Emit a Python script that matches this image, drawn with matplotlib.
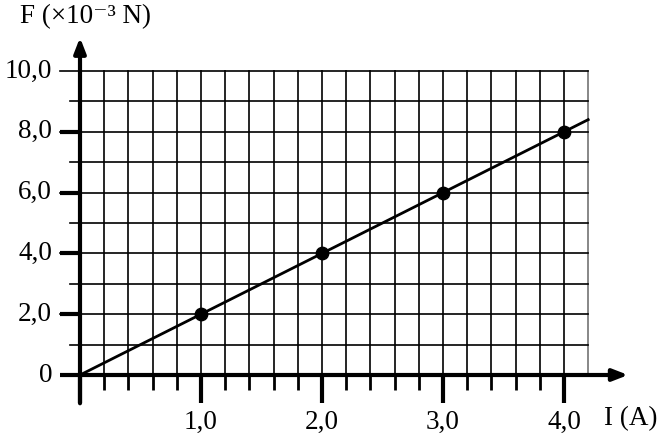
import numpy as np
import matplotlib.pyplot as plt

# dados
corrente = [1.0, 2.0, 3.0, 4.0]          # I (A)
forca = [2.0, 4.0, 6.0, 8.0]             # F (x10^-3 N)
reta_i = [0.0, 4.2]
reta_f = [0.0, 8.4]

ticks_x = [1.0, 2.0, 3.0, 4.0]
rotulos_x = ['1,0', '2,0', '3,0', '4,0']
ticks_y = [0, 2, 4, 6, 8, 10]
rotulos_y = ['0', '2,0', '4,0', '6,0', '8,0', '10,0']

plt.rcParams['font.family'] = ['Liberation Serif', 'DejaVu Serif']

fig = plt.figure(figsize=(6.65, 4.37), dpi=100)
ax = fig.add_axes([0, 0, 1, 1])
ax.set_xlim(-80 / 121, (665 - 80) / 121)
ax.set_ylim(-(437 - 375) / 30.4, 375 / 30.4)
ax.axis('off')

# grade
x_max, y_max = 4.2, 10
for xv in np.arange(0.2, x_max + 0.01, 0.2):
    cor = '0.45' if abs(xv - x_max) < 1e-6 else 'black'
    ax.plot([xv, xv], [0, y_max], color=cor, lw=1.2, zorder=1)
for yv in range(1, y_max + 1):
    inicio = -0.165 if yv % 2 == 0 else -0.083
    ax.plot([inicio, x_max], [yv, yv], color='black', lw=1.2, zorder=1)

# marcas grossas no eixo y
for yv in ticks_y[:-1]:
    ax.plot([-0.165, 0], [yv, yv], color='black', lw=3, zorder=2,
            solid_capstyle='butt')

# marcas no eixo x
for xv in np.arange(0.2, 4.0, 0.2):
    if abs(xv - round(xv)) < 1e-6:
        continue
    ax.plot([xv, xv], [0, -0.5], color='black', lw=2, zorder=2,
            solid_capstyle='butt')
for xv in [0.0] + ticks_x:
    ax.plot([xv, xv], [0, -0.93], color='black', lw=3, zorder=2,
            solid_capstyle='butt')

# eixos com setas
ax.annotate('', xy=(0, 11.1), xytext=(0, -0.93),
            arrowprops=dict(arrowstyle='-|>,head_length=0.9,head_width=0.35',
                            color='black', lw=3, shrinkA=0, shrinkB=0), zorder=3)
ax.annotate('', xy=(4.53, 0), xytext=(0, 0),
            arrowprops=dict(arrowstyle='-|>,head_length=0.9,head_width=0.35',
                            color='black', lw=3, shrinkA=0, shrinkB=0), zorder=3)

# reta e pontos
ax.plot(reta_i, reta_f, color='black', lw=2, zorder=4)
ax.scatter(corrente, forca, s=80, color='black', zorder=5)

# rótulos
for xv, txt in zip(ticks_x, rotulos_x):
    ax.text(xv, -1.15, txt, ha='center', va='top', fontsize=19.5)
for yv, txt in zip(ticks_y, rotulos_y):
    ax.text(-0.23, yv, txt, ha='right', va='center', fontsize=19.5)

ax.text(4.33, -1.45, 'I (A)', ha='left', va='center', fontsize=19.5)
ax.text(-0.5, 11.8, 'F (×10⁻³ N)', ha='left', va='center', fontsize=19.5)

plt.savefig('out.png', dpi=100)
plt.close()
